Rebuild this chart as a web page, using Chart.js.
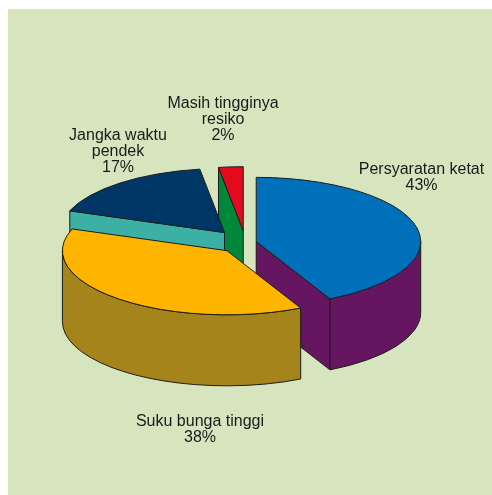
<!DOCTYPE html>
<html>
<head>
<meta charset="utf-8">
<title>Pie</title>
<script src="https://cdn.jsdelivr.net/npm/chart.js@4/dist/chart.umd.min.js"></script>
<style>
  html, body { margin: 0; padding: 0; background: #fff; overflow: hidden; }
  #panel { position: absolute; left: 8px; top: 9px; right: 0; bottom: 0; background: #d7e5bf; }
  #chart { position: absolute; left: 0; top: 0; }
</style>
</head>
<body>
<div id="panel"></div>
<canvas id="chart" width="492" height="495"></canvas>
<script>
const categories = [
    ['Persyaratan ketat'],
    ['Suku bunga tinggi'],
    ['Jangka waktu', 'pendek'],
    ['Masih tingginya', 'resiko'],
];
// the labels show them rounded
const values = [42.6, 37.9, 17.1, 2.4];
const topColors = ['#0070bb', '#ffb400', '#003767', '#e40a1e'];
const sideColors = ['#661560', '#a5841c', '#3cb0a4', '#00873a'];

// the library has no 3D pie, so tilt and extrude the arcs it lays out
const pie3d = {
    id: 'pie3d',
    beforeDatasetsDraw(chart, args, opts) {
        const ctx = chart.ctx;
        const arcs = chart.getDatasetMeta(0).data;

        ctx.save();
        ctx.lineWidth = 1;
        ctx.lineJoin = 'round';
        ctx.strokeStyle = opts.edge;

        // back to front: red, navy, blue, yellow
        opts.order.forEach((i) => {
            const { x, y, outerRadius: r, startAngle, endAngle } = arcs[i].getProps(
                ['x', 'y', 'outerRadius', 'startAngle', 'endAngle'],
                true,
            );
            const ry = r * opts.tilt;
            const mid = (startAngle + endAngle) / 2;
            const cx = x + Math.cos(mid) * opts.explode[i];
            const cy = y + Math.sin(mid) * opts.explode[i] * opts.tilt;
            const rimX = (a) => cx + Math.cos(a) * r;
            const rimY = (a) => cy + Math.sin(a) * ry;

            ctx.fillStyle = sideColors[i];

            // cut faces, only the ones turned to the viewer
            [[startAngle, Math.cos(startAngle) < -0.001], [endAngle, Math.cos(endAngle) > 0.001]].forEach(([a, visible]) => {
                if (!visible) {
                    return;
                }
                ctx.beginPath();
                ctx.moveTo(cx, cy);
                ctx.lineTo(rimX(a), rimY(a));
                ctx.lineTo(rimX(a), rimY(a) + opts.depth);
                ctx.lineTo(cx, cy + opts.depth);
                ctx.closePath();
                ctx.fill();
                ctx.stroke();
            });

            // outer wall, front half of the ellipse only
            const from = Math.max(startAngle, 0);
            const to = Math.min(endAngle, Math.PI);
            if (to > from) {
                ctx.beginPath();
                ctx.ellipse(cx, cy, r, ry, 0, from, to);
                ctx.ellipse(cx, cy + opts.depth, r, ry, 0, to, from, true);
                ctx.closePath();
                ctx.fill();
                ctx.stroke();
            }

            // top face
            ctx.fillStyle = topColors[i];
            ctx.beginPath();
            ctx.moveTo(cx, cy);
            ctx.ellipse(cx, cy, r, ry, 0, startAngle, endAngle);
            ctx.closePath();
            ctx.fill();
            ctx.stroke();
        });

        ctx.restore();
        return false;
    },
    afterDraw(chart, args, opts) {
        const ctx = chart.ctx;
        const total = values.reduce((a, b) => a + b, 0);

        ctx.save();
        ctx.fillStyle = opts.textColor;
        ctx.font = opts.font;
        ctx.textAlign = 'center';
        ctx.textBaseline = 'middle';
        categories.forEach((lines, i) => {
            const pct = `${Math.round((values[i] / total) * 100)}%`;
            const [lx, ly] = opts.labelAt[i];
            [...lines, pct].forEach((line, n) => {
                ctx.fillText(line, lx, ly + n * opts.lineHeight);
            });
        });
        ctx.restore();
    },
};

// eslint-disable-next-line no-new
new Chart(document.getElementById('chart'), {
    type: 'pie',
    data: {
        labels: categories,
        datasets: [{
            data: values,
            backgroundColor: topColors,
            borderWidth: 0,
        }],
    },
    options: {
        responsive: false,
        animation: false,
        layout: {
            padding: { left: 81, right: 82, top: 78, bottom: 88 },
        },
        plugins: {
            legend: { display: false },
            tooltip: { enabled: false },
            pie3d: {
                tilt: 0.39,
                depth: 71,
                edge: '#1c1c1c',
                order: [3, 2, 0, 1],
                explode: [11, 28, 33, 30],
                textColor: '#1a1a1a',
                font: '16px "Liberation Sans"',
                lineHeight: 16,
                labelAt: [[421.5, 170], [200, 422], [118, 136], [223, 104]],
            },
        },
    },
    plugins: [pie3d],
});
</script>
</body>
</html>
